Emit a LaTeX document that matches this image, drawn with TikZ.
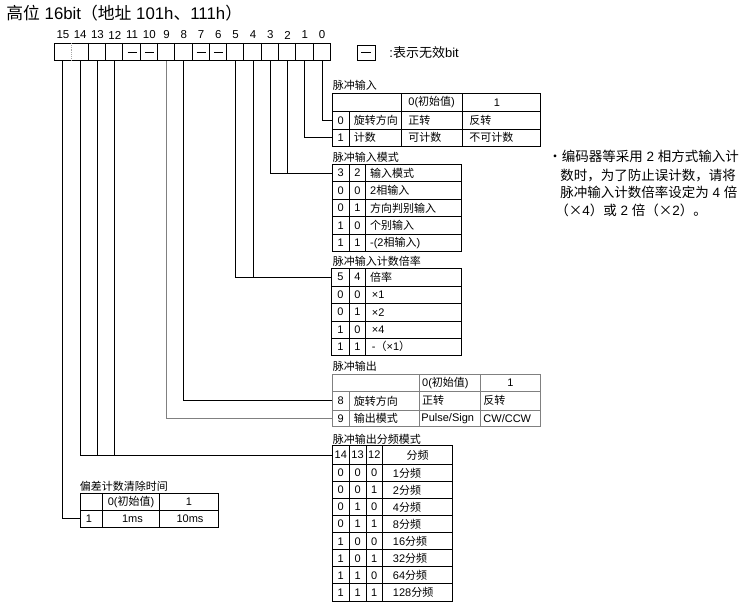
\documentclass[tikz,border=0pt]{standalone}
\usepackage{fontspec}
\setmainfont{Liberation Sans}
\newfontfamily\cjkf{Noto Sans CJK SC}
\newcommand\C[1]{{\cjkf #1}}
\begin{document}
\begin{tikzpicture}[x=1pt,y=-1pt, line width=0.9pt,
  txt/.style={inner sep=0pt, font=\fontsize{11}{13}\selectfont},
  tl/.style={txt, anchor=west},
  tc/.style={txt, anchor=center},
  notetxt/.style={inner sep=0pt, anchor=west, font=\fontsize{13.5}{16}\selectfont},
  bitcell/.style={inner sep=0pt, minimum width=17.275pt, minimum height=17.4pt},
  grayln/.style={draw=black!50},
]
\useasboundingbox (0,0) rectangle (745,606);

% title
\node[anchor=west, inner sep=0pt, font=\fontsize{16.8}{19}\selectfont] (title) at (6,13) {\C{高位} 16bit\C{（地址} 101h\C{、}111h\C{）}};

% bit cells
\foreach \i in {0,...,15} {
  \node[bitcell] (b\i) at ({322.06-17.275*\i},52) {};
  \node[tc, font=\fontsize{11.5}{13}\selectfont] (n\i) at ({322.06-17.275*\i},35) {\i};
}
\draw (54.3,43.3) rectangle (330.7,60.7);
\foreach \i in {0,...,13} \draw (b\i.north west) -- (b\i.south west);
\draw[black!35, densely dotted] (b14.north west) -- (b14.south west);
\foreach \i in {6,7,10,11} \draw ([xshift=-4.5pt]b\i.center) -- ([xshift=4.5pt]b\i.center);

% legend
\node[draw, inner sep=0pt, minimum width=17.7pt, minimum height=15pt] (leg) at (366.2,52.5) {};
\draw ([xshift=-5pt]leg.center) -- ([xshift=5pt]leg.center);
\node[tl, font=\fontsize{13}{15}\selectfont] (legt) at (389,53) {:\C{表示无效}bit};

% connector end points
\coordinate (t1r0) at (332.3,120.5);
\coordinate (t1r1) at (332.3,137.7);
\coordinate (t2h) at (332.3,173);
\coordinate (t3h) at (331.7,277.2);
\coordinate (t4r8) at (332.3,400.8);
\coordinate (t4r9) at (332.3,418.3);
\coordinate (t5h) at (332.3,455);
\coordinate (t6r) at (80.7,518.7);

\draw (b0.south) |- (t1r0);
\draw (b1.south) |- (t1r1);
\draw (b3.south) |- (t2h);
\draw (b2.south) -- (b2.south |- t2h);
\draw (b5.south) |- (t3h);
\draw (b4.south) -- (b4.south |- t3h);
\draw (b8.south) |- (t4r8);
\draw[grayln] (b9.south) |- (t4r9);
\draw (b14.south) |- (t5h);
\draw (b13.south) -- (b13.south |- t5h);
\draw (b12.south) -- (b12.south |- t5h);
\draw (b15.south) |- (t6r);

% ---- table 1: pulse input
\node[tl] (t1t) at (332.3,85) {\C{脉冲输入}};
\draw (332.3,93.3) rectangle (540,146);
\draw (332.3,111.7) -- (540,111.7);
\draw (332.3,129.3) -- (540,129.3);
\draw (349.3,111.7) -- (349.3,146);
\draw (401.7,93.3) -- (401.7,146);
\draw (462.7,93.3) -- (462.7,146);
\node[tl] (t1a) at (408,102.5) {0(\C{初始值})};
\node[tc] (t1b) at (497,102.5) {1};
\node[tc] (t1c) at (340.8,120.5) {0};
\node[tl] (t1d) at (353.3,120.5) {\C{旋转方向}};
\node[tl] (t1e) at (408,120.5) {\C{正转}};
\node[tl] (t1f) at (469,120.5) {\C{反转}};
\node[tc] (t1g) at (340.8,137.7) {1};
\node[tl] (t1h) at (353.3,137.7) {\C{计数}};
\node[tl] (t1i) at (408,137.7) {\C{可计数}};
\node[tl] (t1j) at (469,137.7) {\C{不可计数}};

% ---- table 2: pulse input mode
\node[tl] (t2t) at (332.3,157.3) {\C{脉冲输入模式}};
\draw (332.3,164.3) rectangle (461.7,251);
\foreach \y in {181.7,199.3,216.7,234.3} \draw (332.3,\y) -- (461.7,\y);
\draw (349.3,164.3) -- (349.3,251);
\draw (365.7,164.3) -- (365.7,251);
\node[tc] (t2a) at (340.8,173) {3};
\node[tc] (t2b) at (357.5,173) {2};
\node[tl] (t2c) at (369.7,173) {\C{输入模式}};
\node[tc] (t2d) at (340.8,190.5) {0};
\node[tc] (t2e) at (357.5,190.5) {0};
\node[tl] (t2f) at (369.7,190.5) {2\C{相输入}};
\node[tc] (t2g) at (340.8,208) {0};
\node[tc] (t2h) at (357.5,208) {1};
\node[tl] (t2i) at (369.7,208) {\C{方向判别输入}};
\node[tc] (t2j) at (340.8,225.5) {1};
\node[tc] (t2k) at (357.5,225.5) {0};
\node[tl] (t2l) at (369.7,225.5) {\C{个别输入}};
\node[tc] (t2m) at (340.8,242.7) {1};
\node[tc] (t2n) at (357.5,242.7) {1};
\node[tl] (t2o) at (369.7,242.7) {-(2\C{相输入})};

% ---- table 3: multiplier
\node[tl] (t3t) at (332.3,261.7) {\C{脉冲输入计数倍率}};
\draw (331.7,268.3) rectangle (461.7,355);
\foreach \y in {286,303.3,321,338.3} \draw (331.7,\y) -- (461.7,\y);
\draw (349,268.3) -- (349,355);
\draw (365.7,268.3) -- (365.7,355);
\node[tc] (t3a) at (340.4,277.2) {5};
\node[tc] (t3b) at (357.4,277.2) {4};
\node[tl] (t3c) at (369.7,277.2) {\C{倍率}};
\node[tc] (t3d) at (340.4,294.7) {0};
\node[tc] (t3e) at (357.4,294.7) {0};
\node[tl] (t3f) at (371.5,294.7) {×1};
\node[tc] (t3g) at (340.4,312.2) {0};
\node[tc] (t3h) at (357.4,312.2) {1};
\node[tl] (t3i) at (371.5,312.2) {×2};
\node[tc] (t3j) at (340.4,329.7) {1};
\node[tc] (t3k) at (357.4,329.7) {0};
\node[tl] (t3l) at (371.5,329.7) {×4};
\node[tc] (t3m) at (340.4,346.7) {1};
\node[tc] (t3n) at (357.4,346.7) {1};
\node[tl] (t3o) at (371.5,346.7) {-\C{（}×1\C{）}};

% ---- table 4: pulse output (gray)
\node[tl] (t4t) at (332.3,366.7) {\C{脉冲输出}};
\draw[grayln] (332.3,374) rectangle (540,426.7);
\draw[grayln] (332.3,391.7) -- (540,391.7);
\draw[grayln] (332.3,410) -- (540,410);
\draw[grayln] (349.3,391.7) -- (349.3,426.7);
\draw[grayln] (419.3,374) -- (419.3,426.7);
\draw[grayln] (480.7,374) -- (480.7,426.7);
\node[tl] (t4a) at (421.7,382.9) {0(\C{初始值})};
\node[tc] (t4b) at (510.5,382.9) {1};
\node[tc] (t4c) at (340.8,400.8) {8};
\node[tl] (t4d) at (353.3,400.8) {\C{旋转方向}};
\node[tl] (t4e) at (421.7,400.8) {\C{正转}};
\node[tl] (t4f) at (483,400.8) {\C{反转}};
\node[tc] (t4g) at (340.8,418.3) {9};
\node[tl] (t4h) at (353.3,418.3) {\C{输出模式}};
\node[tl] (t4i) at (421,418.3) {Pulse/Sign};
\node[tl] (t4j) at (483,418.3) {CW/CCW};

% ---- table 5: divider mode
\node[tl] (t5t) at (332.3,439) {\C{脉冲输出分频模式}};
\draw (332.3,445.7) rectangle (452.7,601);
\foreach \k in {0,...,7} \draw (332.3,{464.3+17.09*\k}) -- (452.7,{464.3+17.09*\k});
\draw (349.3,445.7) -- (349.3,601);
\draw (366,445.7) -- (366,601);
\draw (382.7,445.7) -- (382.7,601);
\node[tc] (t5a) at (340.8,455) {14};
\node[tc] (t5b) at (357.6,455) {13};
\node[tc] (t5c) at (374.3,455) {12};
\node[tc] (t5d) at (417.7,455) {\C{分频}};
\foreach \p/\q/\r/\s [count=\k from 0] in {0/0/0/1,0/0/1/2,0/1/0/4,0/1/1/8,1/0/0/16,1/0/1/32,1/1/0/64,1/1/1/128} {
  \node[tc] (t5p\k) at (340.8,{472.85+17.09*\k}) {\p};
  \node[tc] (t5q\k) at (357.6,{472.85+17.09*\k}) {\q};
  \node[tc] (t5r\k) at (374.3,{472.85+17.09*\k}) {\r};
  \node[tl] (t5s\k) at (392.5,{472.85+17.09*\k}) {\s\C{分频}};
}

% ---- table 6: deviation counter clear time
\node[tl] (t6t) at (79.5,486) {\C{偏差计数清除时间}};
\draw (80.7,493.3) rectangle (218.3,527.3);
\draw (80.7,510) -- (218.3,510);
\draw (102.7,493.3) -- (102.7,527.3);
\draw (159.3,493.3) -- (159.3,527.3);
\node[tc] (t6a) at (131,501.7) {0(\C{初始值})};
\node[tc] (t6b) at (189,501.7) {1};
\node[tc] (t6c) at (89,518.7) {1};
\node[tc] (t6d) at (132.5,518.7) {1ms};
\node[tc] (t6e) at (190,518.7) {10ms};

% ---- note
\node[notetxt] (nt1) at (548,156) {\C{・编码器等采用} 2 \C{相方式输入计}};
\node[notetxt] (nt2) at (560,175.2) {\C{数时，为了防止误计数，请将}};
\node[notetxt] (nt3) at (560,192.6) {\C{脉冲输入计数倍率设定为} 4 \C{倍}};
\node[notetxt] (nt4) at (555,210) {\C{（×}4\C{）或} 2 \C{倍（×}2\C{）。}};
\end{tikzpicture}
\end{document}
